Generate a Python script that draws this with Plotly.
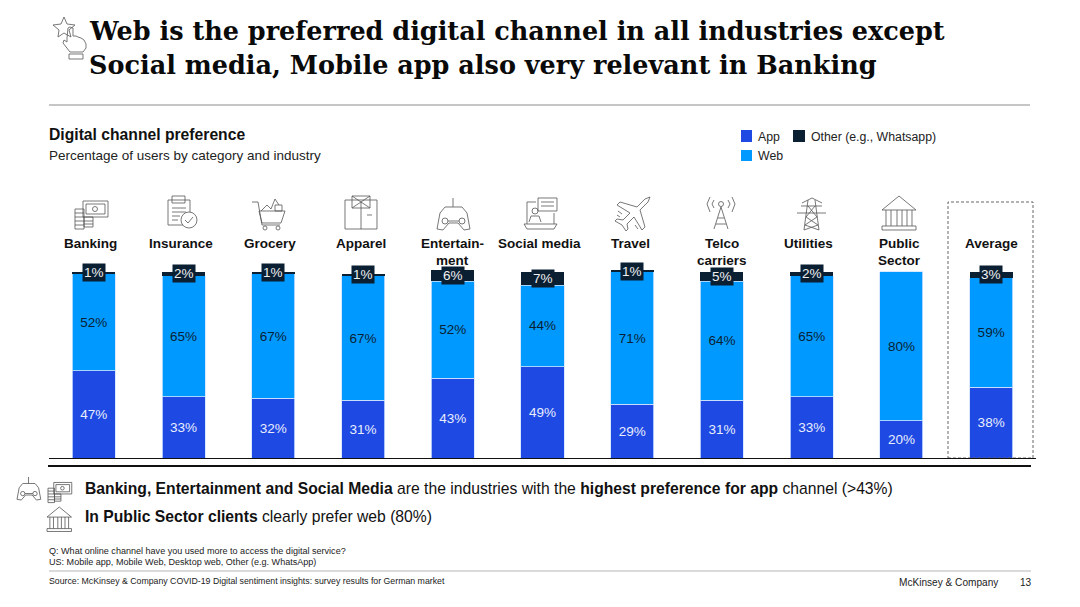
import plotly.graph_objects as go

W, H = 1080, 607

# data
categories = ["Banking", "Insurance", "Grocery", "Apparel", "Entertain-<br>ment", "Social media",
              "Travel", "Telco<br>carriers", "Utilities", "Public<br>Sector", "Average"]
app = [47, 33, 32, 31, 43, 49, 29, 31, 33, 20, 38]
web = [52, 65, 67, 67, 52, 44, 71, 64, 65, 80, 59]
other = [1, 2, 1, 1, 6, 7, 1, 5, 2, 0, 3]

# the slide's category names do not sit quite centred on their bars
label_shift = [-3, -3, -3, -2, 0, -3, -2, 0, -3, -2, 0]

BLUE = "#1f49e3"
CYAN = "#0099ff"
DARK = "#0b1f33"
TEXT = "#111111"
ICON = "#555555"
FONT = "Liberation Sans"


def px(x):
    return x / W


def py(y):
    return 1 - y / H


shapes = []
annotations = []


def text(x, y, s, size, color=TEXT, anchor="left", family=FONT):
    annotations.append(dict(x=px(x - 2), y=py(y), xref="paper", yref="paper", text=s, showarrow=False,
                            xanchor=anchor, yanchor="middle", align=anchor,
                            font=dict(size=size, color=color, family=family)))


def line(x0, y0, x1, y1, color, width, dash="solid"):
    shapes.append(dict(type="line", xref="paper", yref="paper", x0=px(x0), y0=py(y0), x1=px(x1), y1=py(y1),
                       line=dict(color=color, width=width, dash=dash)))


def box(x0, y0, x1, y1, fill):
    shapes.append(dict(type="rect", xref="paper", yref="paper", x0=px(x0), y0=py(y0), x1=px(x1), y1=py(y1),
                       fillcolor=fill, line=dict(width=0)))


# icon outlines, local pixels; P = polyline, Z = closed polyline, C = circle
def rect(x0, y0, x1, y1):
    return ("Z", [(x0, y0), (x1, y0), (x1, y1), (x0, y1)])


def seg(*pts):
    return ("P", list(pts))


ICONS = {
    "money": [rect(8, 2, 33, 18), rect(11, 5, 30, 15), ("C", 20, 10, 2.5), rect(0, 10, 9, 30),
              seg((0, 14), (9, 14)), seg((0, 18), (9, 18)), seg((0, 22), (9, 22)), seg((0, 26), (9, 26)),
              rect(9, 18, 18, 28), seg((9, 22), (18, 22)), seg((9, 25), (18, 25))],
    "clipboard": [rect(0, 4, 22, 29), rect(4, 0, 17, 7), seg((4, 12), (18, 12)), seg((4, 16), (18, 16)),
                  seg((4, 20), (12, 20)), seg((4, 24), (10, 24)), ("C", 21, 24, 8),
                  seg((17, 24), (20, 27), (25, 21))],
    "cart": [seg((0, 4), (6, 4), (10, 27), (28, 27)), ("Z", [(7, 13), (33, 13), (29, 25), (10, 25)]),
             ("C", 13, 30, 2), ("C", 26, 30, 2), seg((9, 13), (15, 7), (19, 11), (23, 1), (27, 7)),
             rect(23, 7, 30, 13)],
    "shirt": [rect(0, 4, 32, 33), rect(7, 0, 25, 12), seg((7, 0), (25, 12)), seg((25, 0), (7, 12)),
              seg((16, 6), (16, 33)), seg((22, 19), (27, 19))],
    "gamepad": [seg((16, 0), (16, 9)),
                ("Z", [(0, 31), (3, 15), (8, 9), (25, 9), (30, 15), (33, 31), (27, 32), (21, 25), (12, 25), (6, 32)]),
                ("C", 8, 23, 3), ("C", 25, 23, 3), seg((11, 23), (22, 23))],
    "social": [seg((3, 26), (3, 4), (12, 4)), seg((30, 15), (30, 26)), ("Z", [(0, 26), (33, 26), (30, 31), (3, 31)]),
               ("C", 11, 13, 3), seg((5, 24), (7, 18), (15, 18), (17, 24)), rect(14, 0, 33, 13),
               seg((17, 4), (30, 4)), seg((17, 8), (30, 8))],
    "plane": [("Z", [(35, 0), (30, 2), (22, 10), (5, 5), (2, 8), (15, 16), (8, 23), (2, 22), (0, 24), (7, 28),
                     (11, 34), (13, 32), (12, 27), (19, 20), (27, 33), (30, 30), (25, 13), (33, 5)]),
              seg((3, 14), (7, 17)), seg((2, 18), (5, 20)), seg((20, 28), (23, 32))],
    "tower": [seg((3, 1), (0, 8), (3, 16)), seg((7, 4), (5, 8), (7, 12)), seg((25, 1), (28, 8), (25, 16)),
              seg((21, 4), (23, 8), (21, 12)), ("C", 14, 8, 2.5), seg((14, 11), (7, 33)), seg((14, 11), (21, 33)),
              seg((11, 22), (17, 22)), seg((9, 28), (19, 28))],
    "pylon": [seg((5, 6), (15, 1), (25, 6)), seg((0, 16), (29, 16)), seg((4, 9), (25, 9)), seg((11, 3), (7, 33)),
              seg((18, 3), (22, 33)), seg((11, 9), (20, 20), (8, 28), (22, 33)), seg((18, 9), (9, 20), (21, 28), (7, 33))],
    "museum": [("Z", [(0, 14), (17, 0), (34, 14)]), seg((4, 14), (4, 30)), seg((9, 14), (9, 30)), seg((15, 14), (15, 30)),
               seg((20, 14), (20, 30)), seg((25, 14), (25, 30)), seg((30, 14), (30, 30)), rect(0, 30, 34, 34)],
    "star": [("Z", [(11, 1), (14, 8), (22, 9), (16, 14), (18, 21), (11, 17), (5, 21), (6, 14), (0, 9), (8, 8)]),
             ("Z", [(14, 22), (15, 12), (17, 11), (20, 12), (20, 20), (23, 20), (25, 21), (28, 22), (31, 24), (33, 28),
                    (33, 32), (30, 36), (17, 36), (10, 27), (11, 24), (14, 26)]),
             rect(16, 38, 30, 43)],
}


def icon(name, ox, oy, k=1.0):
    for part in ICONS[name]:
        if part[0] == "C":
            cx, cy, r = ox + part[1] * k, oy + part[2] * k, part[3] * k
            shapes.append(dict(type="circle", xref="paper", yref="paper", x0=px(cx - r), x1=px(cx + r),
                               y0=py(cy + r), y1=py(cy - r), fillcolor="white", line=dict(color=ICON, width=0.8)))
        else:
            d = " ".join(("M" if i == 0 else "L") + f"{px(ox + a * k):.5f},{py(oy + b * k):.5f}"
                         for i, (a, b) in enumerate(part[1]))
            if part[0] == "Z":
                d += " Z"
            shapes.append(dict(type="path", xref="paper", yref="paper", path=d, line=dict(color=ICON, width=0.8)))


fig = go.Figure()
fig.add_trace(go.Bar(x=categories, y=app, name="App", marker=dict(color=BLUE, line=dict(color="#cfe3ff", width=0.8)),
                     text=[f"{v}%" for v in app], textposition="inside", insidetextanchor="middle", textangle=0,
                     insidetextfont=dict(color="#e8eefc", size=13.5, family=FONT)))
fig.add_trace(go.Bar(x=categories, y=web, name="Web", marker=dict(color=CYAN, line=dict(color="#cfe3ff", width=0.8)),
                     text=[f"{v}%" for v in web], textposition="inside", insidetextanchor="middle", textangle=0,
                     insidetextfont=dict(color=DARK, size=13.5, family=FONT)))
fig.add_trace(go.Bar(x=categories, y=other, name="Other (e.g., Whatsapp)",
                     marker=dict(color=DARK, line=dict(width=0))))

# category names and the boxed "Other" labels
for i, c in enumerate(categories):
    for j, part in enumerate(c.split("<br>")):
        annotations.append(dict(x=i, y=py(243 + 17 * j), xref="x", yref="paper", text=f"<b>{part}</b>", showarrow=False,
                                xanchor="center", yanchor="middle", xshift=label_shift[i],
                                font=dict(size=13.5, color=TEXT, family=FONT)))
    if other[i] > 0:
        annotations.append(dict(x=i, y=app[i] + web[i] + other[i] / 2, xref="x", yref="y", text=f"{other[i]}%",
                                showarrow=False, xanchor="center", yanchor="middle", bgcolor=DARK, borderpad=1,
                                font=dict(size=13.5, color="#f0f0f0", family=FONT)))

# title block
text(89, 31, "<b>Web is the preferred digital channel in all industries except</b>", 25.5, "#0a0a0a", family="DejaVu Serif")
text(89, 65, "<b>Social media, Mobile app also very relevant in Banking</b>", 25.5, "#0a0a0a", family="DejaVu Serif")
icon("star", 53, 16)
line(49, 105, 1030, 105, "#8c8c8c", 1)
text(49, 134, "<b>Digital channel preference</b>", 15.7)
text(49, 155, "Percentage of users by category and industry", 13.5, "#222222")

# legend
box(741, 130, 752, 142, BLUE)
text(758, 137, "App", 12.3, "#222222")
box(793, 130, 805, 142, DARK)
text(811, 137, "Other (e.g., Whatsapp)", 12.3, "#222222")
box(741, 150, 752, 161, CYAN)
text(758, 156, "Web", 12.3, "#222222")

# icons above the bars
for name, ox, oy in [("money", 75, 199), ("clipboard", 168, 196), ("cart", 252, 198), ("shirt", 345, 196),
                     ("gamepad", 437, 198), ("social", 524, 198), ("plane", 615, 197), ("tower", 707, 196),
                     ("pylon", 797, 197), ("museum", 882, 196)]:
    icon(name, ox, oy)

# highlight around Average
shapes.append(dict(type="rect", xref="paper", yref="paper", x0=px(948), x1=px(1033), y0=py(458), y1=py(202),
                   line=dict(color="#666666", width=1, dash="3px,2px")))

# rules
line(49, 458.5, 1036, 458.5, "#111111", 1)
line(48, 466, 1031, 466, "#111111", 2)
line(49, 571, 1031, 571, "#b5b5b5", 1)

# takeaways
icon("gamepad", 17, 477, 0.72)
icon("money", 48, 481, 0.72)
icon("museum", 47, 507, 0.72)
text(85, 488, "<b>Banking, Entertainment and Social Media</b> are the industries with the "
              "<b>highest preference for app</b> channel (&gt;43%)", 15.7)
text(85, 516, "<b>In Public Sector clients</b> clearly prefer web (80%)", 15.7)

# footer
text(49, 551, "Q: What online channel have you used more to access the digital service?", 9.05, "#222222")
text(49, 562, "US: Mobile app, Mobile Web, Desktop web, Other (e.g. WhatsApp)", 9.05, "#222222")
text(49, 581, "Source: McKinsey &amp; Company COVID-19 Digital sentiment insights: survey results for German market", 8.75, "#222222")
text(899, 582, "McKinsey &amp; Company", 10.1, "#222222")
text(1020, 582, "13", 10.1, "#222222")

fig.update_layout(
    width=W, height=H, barmode="stack", bargap=0.52, showlegend=False,
    margin=dict(l=0, r=0, t=0, b=0), paper_bgcolor="white", plot_bgcolor="white",
    xaxis=dict(domain=[px(49), px(1036)], type="category", showticklabels=False, ticks="", showgrid=False, zeroline=False),
    yaxis=dict(domain=[py(458), py(253.4)], range=[0, 110], visible=False, showgrid=False, zeroline=False),
    uniformtext=dict(mode=False),
    shapes=shapes, annotations=annotations,
)
fig.update_traces(cliponaxis=False)
fig.write_html("out.html", config=dict(displayModeBar=False), post_script="document.body.style.margin='0';")
